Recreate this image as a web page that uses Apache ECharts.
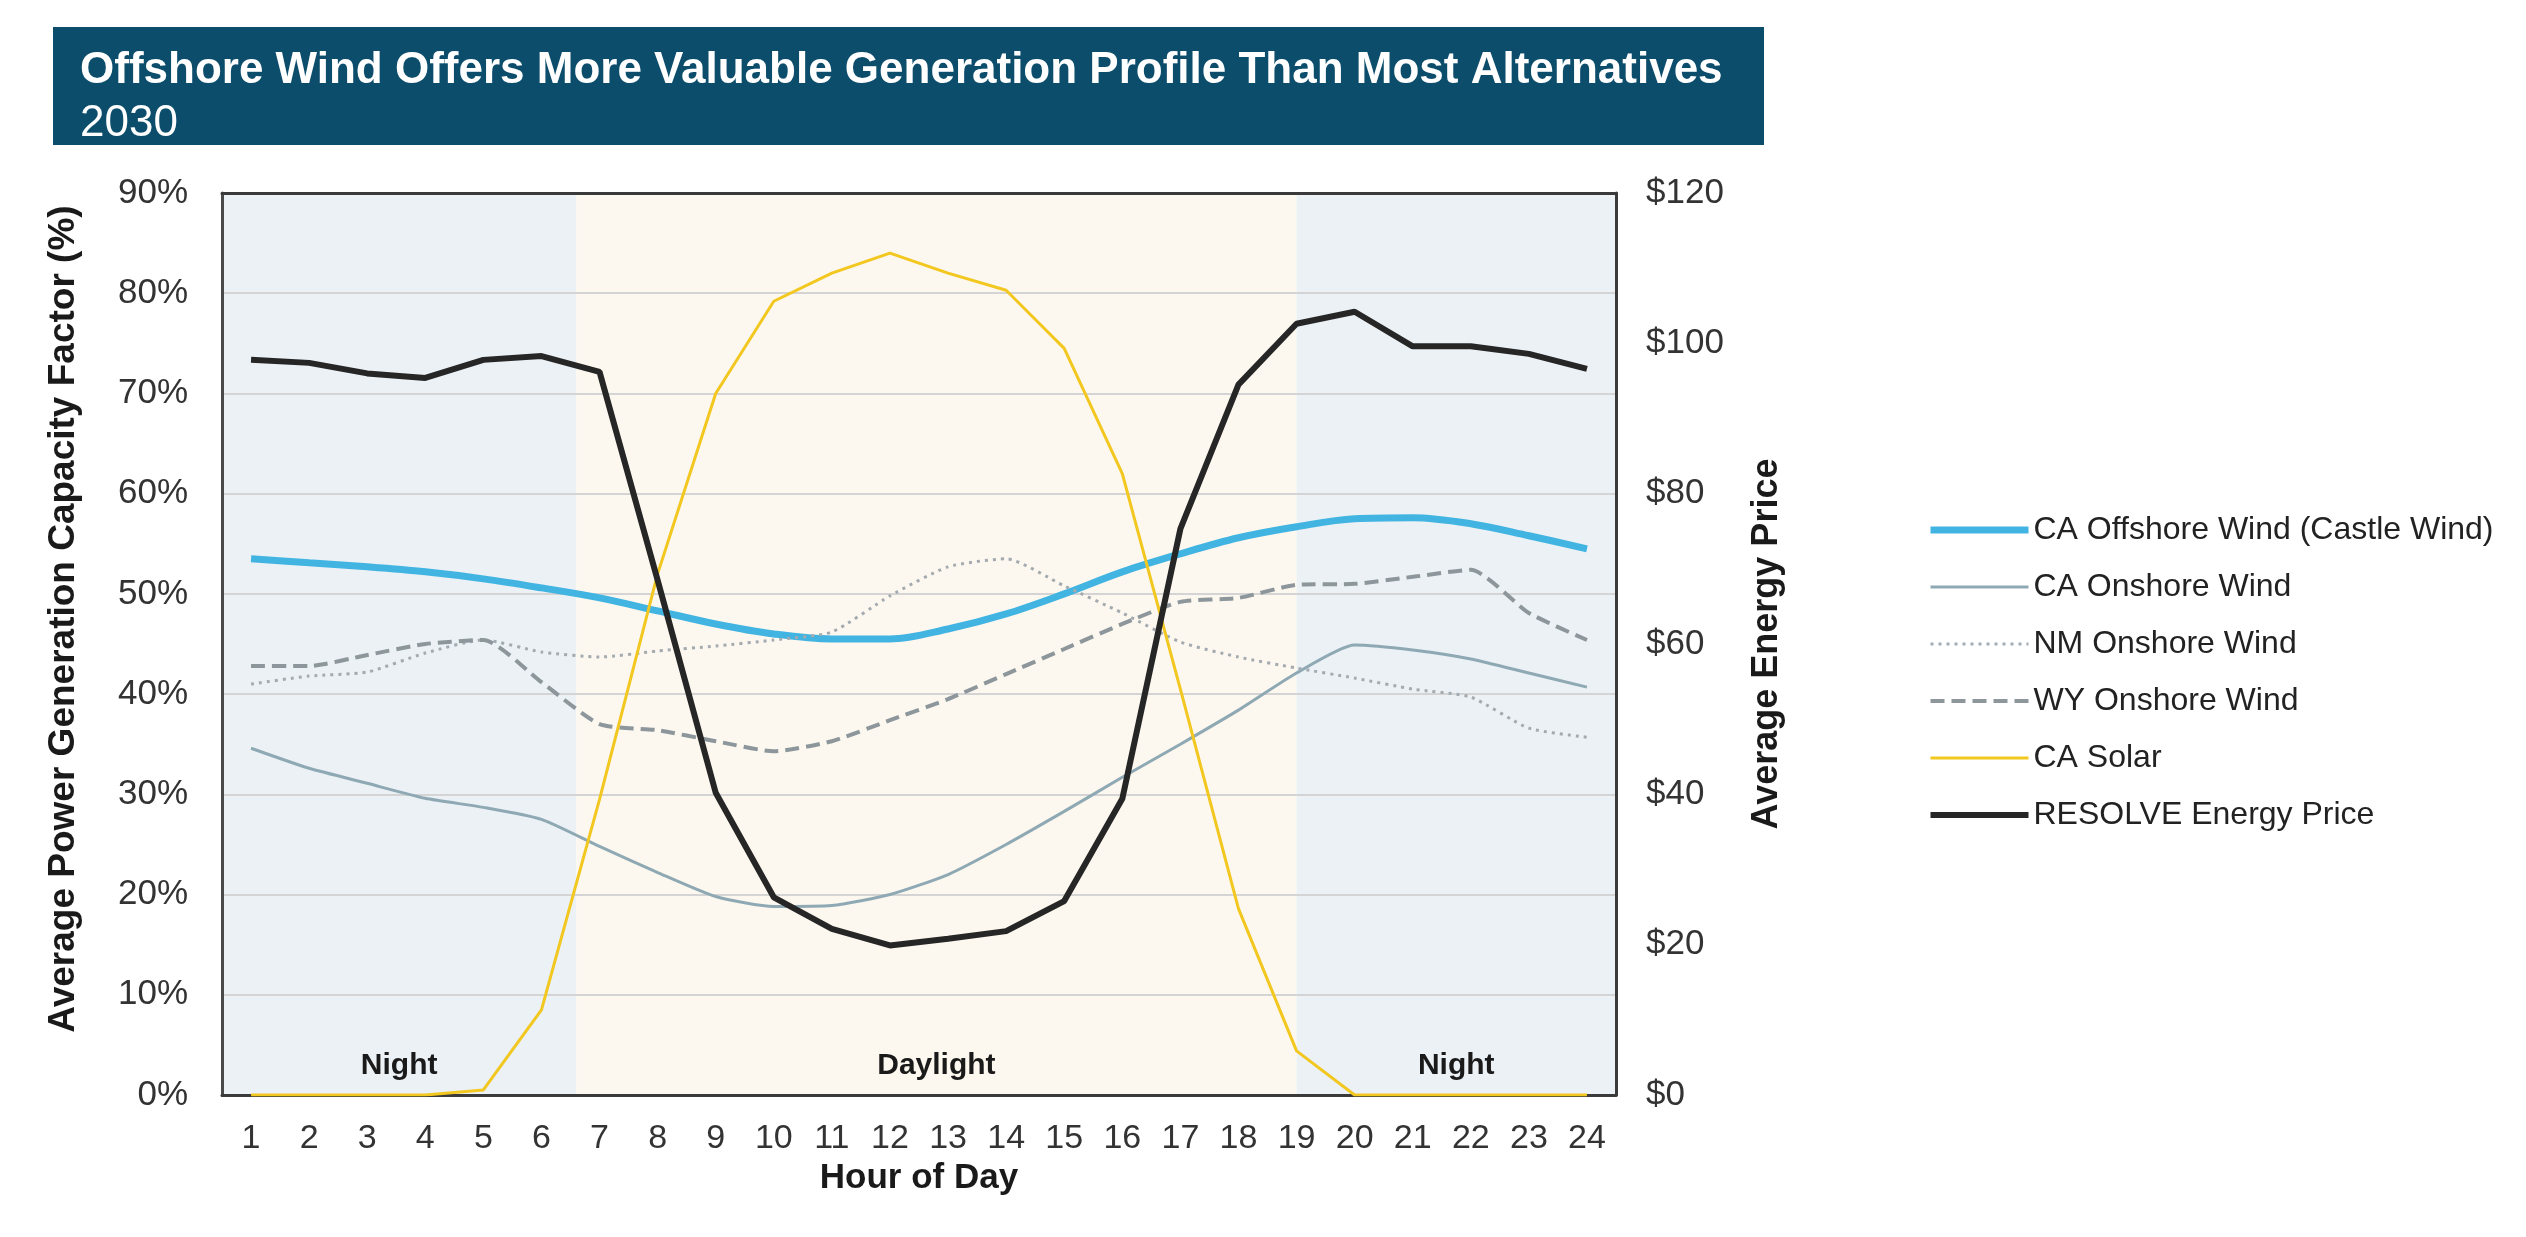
<!DOCTYPE html>
<html>
<head>
<meta charset="utf-8">
<script src="https://cdn.jsdelivr.net/npm/echarts@6/dist/echarts.min.js"></script>
<style>
html,body{margin:0;padding:0;background:#fff;}
#chart{width:2526px;height:1237px;}
</style>
</head>
<body>
<div id="chart"></div>
<script>
// ---- data ----
const hours = ['1','2','3','4','5','6','7','8','9','10','11','12','13','14','15','16','17','18','19','20','21','22','23','24'];
const caOffshoreWind = [53.5,53.1,52.7,52.2,51.5,50.6,49.6,48.3,47.0,46.0,45.5,45.5,46.5,48.0,50.0,52.2,54.0,55.6,56.7,57.5,57.6,57.0,55.8,54.5];
const caOnshoreWind = [34.6,32.6,31.1,29.6,28.7,27.5,24.8,22.2,19.8,18.8,18.9,20.0,22.0,25.0,28.3,31.7,35.0,38.4,42.1,44.9,44.4,43.5,42.1,40.7];
const nmOnshoreWind = [41.0,41.8,42.2,44.1,45.4,44.2,43.7,44.3,44.8,45.4,46.2,49.8,52.7,53.5,50.8,48.1,45.2,43.7,42.6,41.6,40.5,39.7,36.6,35.7];
const wyOnshoreWind = [42.8,42.8,43.9,45.0,45.4,41.2,37.0,36.4,35.3,34.3,35.3,37.4,39.5,42.0,44.5,47.0,49.2,49.6,50.9,51.0,51.7,52.4,48.1,45.4];
const caSolar = [0,0,0,0,0.5,8.5,29.5,52.0,70.0,79.2,82.0,84.0,82.0,80.3,74.5,62.0,40.5,18.6,4.4,0,0,0,0,0];
const resolvePrice = [97.8,97.4,96.0,95.4,97.8,98.3,96.2,68.5,40.2,26.3,22.1,19.9,20.8,21.8,25.8,39.4,75.3,94.5,102.6,104.2,99.6,99.6,98.6,96.6];
// day/night periods (in hour units)
const periodNames = ['Night','Daylight','Night'];
const periodStart = [0.5, 6.6, 19];
const periodEnd = [6.6, 19, 24.5];

const seriesNames = ['CA Offshore Wind (Castle Wind)','CA Onshore Wind','NM Onshore Wind','WY Onshore Wind','CA Solar','RESOLVE Energy Price'];
const FONT = '"Liberation Sans", Arial, sans-serif';

const chart = echarts.init(document.getElementById('chart'), null, {renderer:'canvas'});

const periodColors = ['#ebf1f5','#fdf8ef','#ebf1f5'];
const areaData = periodNames.map((n,i)=>[
  {name:n, xAxis:periodStart[i], itemStyle:{color:periodColors[i]}},
  {xAxis:periodEnd[i]}
]);

const legendLineWidths = [7,3,3,4,3,6];

const option = {
  backgroundColor:'#ffffff',
  animation:false,
  textStyle:{fontFamily:FONT},
  graphic:[
    {type:'rect', shape:{x:53,y:27,width:1711,height:118}, style:{fill:'#0c4d6c'}, z:10},
    {type:'text', x:80, y:71, style:{text:'Offshore Wind Offers More Valuable Generation Profile Than Most Alternatives', fill:'#ffffff', font:'bold 44px "Liberation Sans", Arial, sans-serif', verticalAlign:'middle'}, z:11},
    {type:'text', x:80, y:124, style:{text:'2030', fill:'#ffffff', font:'44px "Liberation Sans", Arial, sans-serif', verticalAlign:'middle'}, z:11}
  ],
  grid:{left:222, right:910, top:193, bottom:142, show:false},
  legend:{
    data:seriesNames.map((n,i)=>({name:n, lineStyle:{width:legendLineWidths[i]}})),
    orient:'vertical',
    left:1922, top:508,
    itemWidth:98, itemHeight:14, itemGap:23,
    itemStyle:{opacity:0},
    textStyle:{fontFamily:FONT, fontSize:32, color:'#222', lineHeight:34},
    selectedMode:false
  },
  xAxis:[
    {
      type:'category', data:hours, boundaryGap:true, position:'bottom', z:3,
      axisLine:{show:true, lineStyle:{color:'#3a3a3a', width:3}},
      axisTick:{show:false},
      axisLabel:{fontFamily:FONT, fontSize:34, color:'#333', margin:27},
      splitLine:{show:false},
      name:'Hour of Day', nameLocation:'middle', nameGap:65,
      nameTextStyle:{fontFamily:FONT, fontSize:35, fontWeight:'bold', color:'#1a1a1a'}
    },
    {
      type:'value', min:0.5, max:24.5, position:'top', z:3,
      axisLine:{show:true, onZero:false, lineStyle:{color:'#3a3a3a', width:3}},
      axisTick:{show:false}, axisLabel:{show:false}, splitLine:{show:false}
    }
  ],
  yAxis:[
    {
      type:'value', min:0, max:90, interval:10, position:'left', z:3,
      axisLine:{show:true, lineStyle:{color:'#4a4a4a', width:3}},
      axisTick:{show:false},
      axisLabel:{fontFamily:FONT, fontSize:35, color:'#333', margin:34, formatter:'{value}%'},
      splitLine:{show:true, lineStyle:{color:'#d4d4d4', width:2}},
      name:'Average Power Generation Capacity Factor (%)', nameLocation:'middle', nameGap:140, nameRotate:90,
      nameTextStyle:{fontFamily:FONT, fontSize:37, fontWeight:'bold', color:'#1a1a1a', padding:[0,0,0,50]}
    },
    {
      type:'value', min:0, max:120, interval:20, position:'right', z:3,
      axisLine:{show:true, lineStyle:{color:'#3a3a3a', width:3}},
      axisTick:{show:false},
      axisLabel:{fontFamily:FONT, fontSize:35, color:'#333', margin:30, formatter:'${value}'},
      splitLine:{show:false},
      name:'Average Energy Price', nameLocation:'middle', nameGap:133, nameRotate:90,
      nameTextStyle:{fontFamily:FONT, fontSize:36, fontWeight:'bold', color:'#1a1a1a'}
    }
  ],
  series:[
    {
      name:'periods', type:'line', xAxisIndex:1, yAxisIndex:0, z:1, silent:true,
      data:[[1,0]], symbol:'none', lineStyle:{opacity:0},
      markArea:{
        silent:true,
        label:{show:true, position:'insideBottom', distance:14, fontFamily:FONT, fontSize:30, fontWeight:'bold', color:'#1a1a1a'},
        data:areaData
      }
    },
    {name:seriesNames[0], type:'line', data:caOffshoreWind, yAxisIndex:0, z:5, symbol:'none', smooth:0.35,
      lineStyle:{color:'#42b4e2', width:7}, itemStyle:{color:'#42b4e2'}},
    {name:seriesNames[1], type:'line', data:caOnshoreWind, yAxisIndex:0, z:5, symbol:'none', smooth:0.2,
      lineStyle:{color:'#8fa9b4', width:3}, itemStyle:{color:'#8fa9b4'}},
    {name:seriesNames[2], type:'line', data:nmOnshoreWind, yAxisIndex:0, z:5, symbol:'none', smooth:0.2,
      lineStyle:{color:'#a3abb0', width:3, type:[3,5]}, itemStyle:{color:'#a3abb0'}},
    {name:seriesNames[3], type:'line', data:wyOnshoreWind, yAxisIndex:0, z:5, symbol:'none', smooth:0.2,
      lineStyle:{color:'#8c969b', width:4, type:[14,7]}, itemStyle:{color:'#8c969b'}},
    {name:seriesNames[4], type:'line', data:caSolar, yAxisIndex:0, z:5, symbol:'none',
      lineStyle:{color:'#f2c720', width:3}, itemStyle:{color:'#f2c720'}},
    {name:seriesNames[5], type:'line', data:resolvePrice, yAxisIndex:1, z:6, symbol:'none',
      lineStyle:{color:'#262626', width:6}, itemStyle:{color:'#262626'}}
  ]
};
chart.setOption(option);
</script>
</body>
</html>
